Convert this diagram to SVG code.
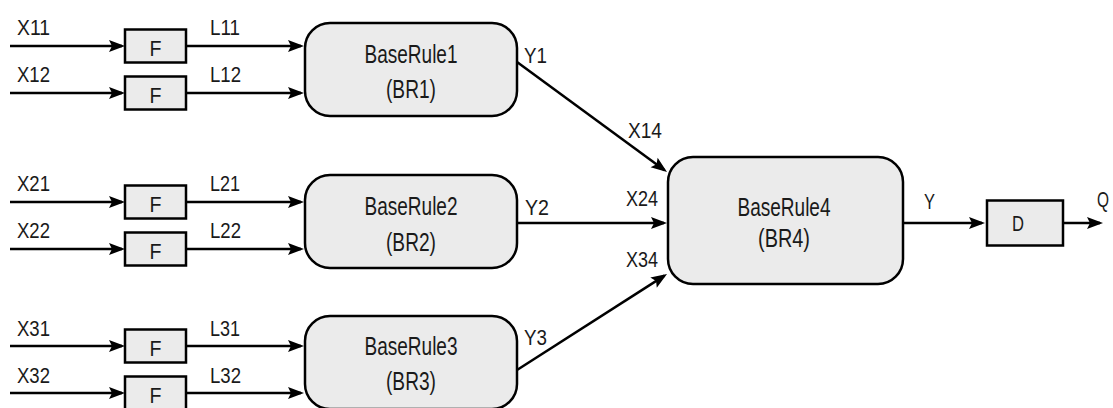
<svg xmlns="http://www.w3.org/2000/svg" width="1113" height="408" viewBox="0 0 1113 408">
<style>
text{font-family:"Liberation Sans",Arial,sans-serif;fill:#1a1a1a}
.lbl{font-size:22px}
.big{font-size:25px;text-anchor:middle}
.box{fill:#ebebeb;stroke:#000;stroke-width:2.5}
.ln{fill:none;stroke:#000;stroke-width:2.5;marker-end:url(#ah)}
</style>
<defs>
<marker id="ah" markerUnits="userSpaceOnUse" markerWidth="17" markerHeight="13" refX="13" refY="6" orient="auto" overflow="visible">
<path d="M0,0 L16,6 L0,12 L3,6 z" fill="#000"/>
</marker>
</defs>
<g id="connectors">
<line class="ln" x1="10" y1="46" x2="122" y2="46"/>
<line class="ln" x1="10" y1="93" x2="122" y2="93"/>
<line class="ln" x1="10" y1="202" x2="122" y2="202"/>
<line class="ln" x1="10" y1="249" x2="122" y2="249"/>
<line class="ln" x1="10" y1="346" x2="122" y2="346"/>
<line class="ln" x1="10" y1="393" x2="122" y2="393"/>
<line class="ln" x1="186" y1="46" x2="301" y2="46"/>
<line class="ln" x1="186" y1="93" x2="301" y2="93"/>
<line class="ln" x1="186" y1="202" x2="301" y2="202"/>
<line class="ln" x1="186" y1="249" x2="301" y2="249"/>
<line class="ln" x1="186" y1="346" x2="301" y2="346"/>
<line class="ln" x1="186" y1="393" x2="301" y2="393"/>
<line class="ln" x1="517" y1="62" x2="664.6" y2="170.2"/>
<line class="ln" x1="517" y1="223" x2="664" y2="223"/>
<line class="ln" x1="517" y1="370" x2="664.5" y2="275.6"/>
<line class="ln" x1="903" y1="223" x2="982" y2="223"/>
<line class="ln" x1="1063" y1="223" x2="1100" y2="223"/>
</g>
<g id="labels">
<text class="lbl" x="17" y="35" textLength="33" lengthAdjust="spacingAndGlyphs">X11</text>
<text class="lbl" x="17" y="82" textLength="33" lengthAdjust="spacingAndGlyphs">X12</text>
<text class="lbl" x="17" y="191" textLength="33" lengthAdjust="spacingAndGlyphs">X21</text>
<text class="lbl" x="17" y="238" textLength="33" lengthAdjust="spacingAndGlyphs">X22</text>
<text class="lbl" x="17" y="336" textLength="33" lengthAdjust="spacingAndGlyphs">X31</text>
<text class="lbl" x="17" y="383" textLength="33" lengthAdjust="spacingAndGlyphs">X32</text>
<text class="lbl" x="210" y="35" textLength="30" lengthAdjust="spacingAndGlyphs">L11</text>
<text class="lbl" x="210" y="82" textLength="31" lengthAdjust="spacingAndGlyphs">L12</text>
<text class="lbl" x="210" y="191" textLength="30" lengthAdjust="spacingAndGlyphs">L21</text>
<text class="lbl" x="210" y="238" textLength="31" lengthAdjust="spacingAndGlyphs">L22</text>
<text class="lbl" x="210" y="336" textLength="30" lengthAdjust="spacingAndGlyphs">L31</text>
<text class="lbl" x="210" y="383" textLength="31" lengthAdjust="spacingAndGlyphs">L32</text>
<text class="lbl" x="524" y="63" textLength="23" lengthAdjust="spacingAndGlyphs">Y1</text>
<text class="lbl" x="525" y="215" textLength="24" lengthAdjust="spacingAndGlyphs">Y2</text>
<text class="lbl" x="524" y="345" textLength="23" lengthAdjust="spacingAndGlyphs">Y3</text>
<text class="lbl" x="628" y="138" textLength="34" lengthAdjust="spacingAndGlyphs">X14</text>
<text class="lbl" x="626" y="206" textLength="32" lengthAdjust="spacingAndGlyphs">X24</text>
<text class="lbl" x="626" y="267" textLength="32" lengthAdjust="spacingAndGlyphs">X34</text>
<text class="lbl" x="924" y="209" textLength="11" lengthAdjust="spacingAndGlyphs">Y</text>
<text class="lbl" x="1097" y="207" textLength="12" lengthAdjust="spacingAndGlyphs">Q</text>
</g>
<g id="F11"><rect class="box" x="125" y="29.5" width="61" height="33"/><text class="lbl" x="155.5" y="56" text-anchor="middle" textLength="12" lengthAdjust="spacingAndGlyphs">F</text></g>
<g id="F12"><rect class="box" x="125" y="76.5" width="61" height="33"/><text class="lbl" x="155.5" y="103" text-anchor="middle" textLength="12" lengthAdjust="spacingAndGlyphs">F</text></g>
<g id="F21"><rect class="box" x="125" y="185.5" width="61" height="33"/><text class="lbl" x="155.5" y="212" text-anchor="middle" textLength="12" lengthAdjust="spacingAndGlyphs">F</text></g>
<g id="F22"><rect class="box" x="125" y="232.5" width="61" height="33"/><text class="lbl" x="155.5" y="259" text-anchor="middle" textLength="12" lengthAdjust="spacingAndGlyphs">F</text></g>
<g id="F31"><rect class="box" x="125" y="329.5" width="61" height="33"/><text class="lbl" x="155.5" y="356" text-anchor="middle" textLength="12" lengthAdjust="spacingAndGlyphs">F</text></g>
<g id="F32"><rect class="box" x="125" y="376.5" width="61" height="33"/><text class="lbl" x="155.5" y="403" text-anchor="middle" textLength="12" lengthAdjust="spacingAndGlyphs">F</text></g>
<g id="BR1"><rect class="box" x="305" y="23" width="212" height="93" rx="25"/><text class="big" x="411" y="63" textLength="93" lengthAdjust="spacingAndGlyphs">BaseRule1</text><text class="big" x="411" y="98" textLength="50" lengthAdjust="spacingAndGlyphs">(BR1)</text></g>
<g id="BR2"><rect class="box" x="305" y="175" width="212" height="93" rx="25"/><text class="big" x="411" y="215" textLength="93" lengthAdjust="spacingAndGlyphs">BaseRule2</text><text class="big" x="411" y="251" textLength="50" lengthAdjust="spacingAndGlyphs">(BR2)</text></g>
<g id="BR3"><rect class="box" x="305" y="316" width="212" height="93" rx="25"/><text class="big" x="411" y="355" textLength="93" lengthAdjust="spacingAndGlyphs">BaseRule3</text><text class="big" x="411" y="390" textLength="50" lengthAdjust="spacingAndGlyphs">(BR3)</text></g>
<g id="BR4"><rect class="box" x="668" y="157" width="235" height="127" rx="25"/><text class="big" x="784" y="216" textLength="93" lengthAdjust="spacingAndGlyphs">BaseRule4</text><text class="big" x="784" y="247" textLength="52" lengthAdjust="spacingAndGlyphs">(BR4)</text></g>
<g id="D"><rect class="box" x="987" y="200.5" width="76" height="45"/><text class="lbl" x="1018" y="231" text-anchor="middle" textLength="12" lengthAdjust="spacingAndGlyphs">D</text></g>
</svg>
